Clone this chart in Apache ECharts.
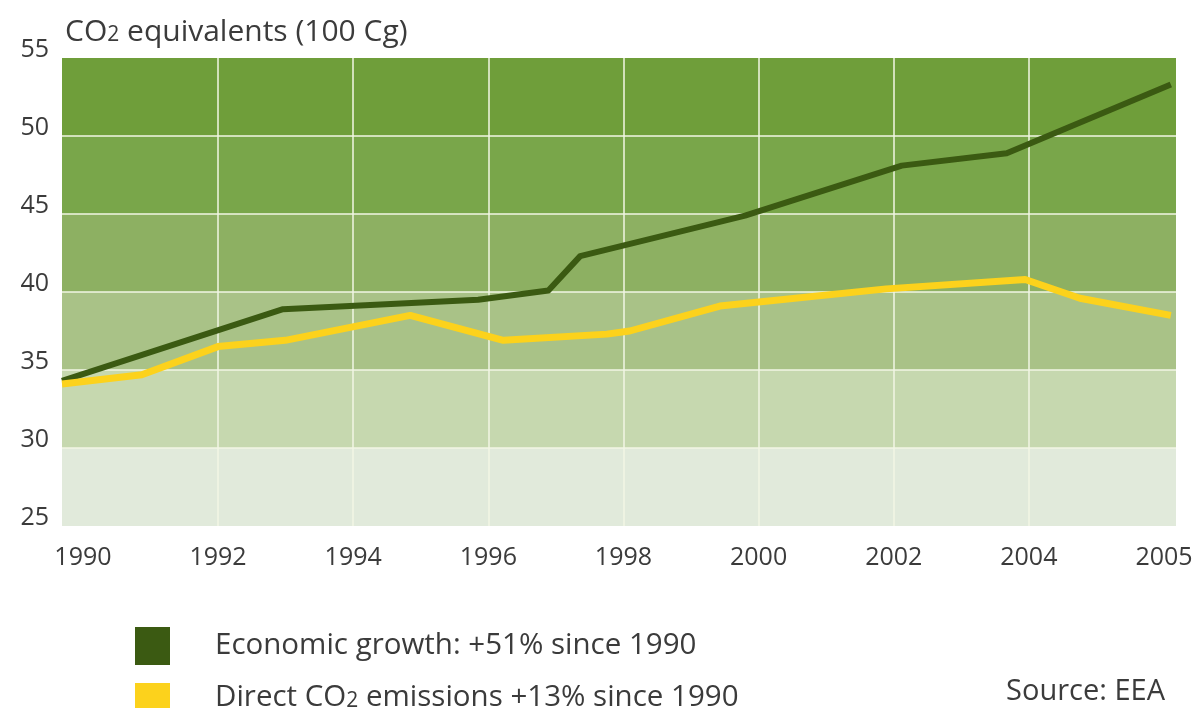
<!DOCTYPE html>
<html>
<head>
<meta charset="utf-8">
<script src="https://cdn.jsdelivr.net/npm/echarts@6/dist/echarts.min.js"></script>
<style>
  html, body { margin: 0; padding: 0; background: #ffffff; }
  #chart { width: 1196px; height: 708px; }
</style>
</head>
<body>
<div id="chart"></div>
<script>
// Tick labels along the bottom, one per label slot
const tickLabels = ['1990', '1992', '1994', '1996', '1998', '2000', '2002', '2004', '2005'];

// Economic growth (index, CO2-equivalent scale)
const growthYears  = [1990, 1992.99, 1995.63, 1996.58, 1997.01, 1999.24, 2001.36, 2002.78, 2005];
const growthValues = [34.3, 38.9, 39.5, 40.1, 42.3, 44.9, 48.1, 48.9, 53.3];

// Direct CO2 emissions
const co2Years  = [1990, 1991.08, 1992.11, 1993.02, 1994.71, 1995.97, 1997.37, 1997.68, 1998.9, 2001.15, 2003.03, 2003.77, 2005];
const co2Values = [34.1, 34.7, 36.5, 36.9, 38.5, 36.9, 37.3, 37.5, 39.1, 40.2, 40.8, 39.6, 38.5];

const seriesNames = ['Economic growth: +51% since 1990', 'Direct CO2 emissions +13% since 1990'];

// Shades of the horizontal bands, from the 25–30 band upward
const bandColors = ['#e1eadb', '#c6d8af', '#a9c287', '#8db062', '#79a64a', '#6f9e3a'];

const FONT = '"Open Sans", "Noto Sans", sans-serif';
const TEXT = '#3b3b3b';
const GRID_LINE = '#f2f6e4';

const toPairs = (xs, ys) => xs.map((x, i) => [x, ys[i]]);

const subscriptStyle = {
  fontFamily: FONT, fontSize: 21, fontWeight: 'normal', color: TEXT, padding: [7, 0, 0, 0]
};

// one legend block per series, stacked vertically
const legendBlock = (name, top, lift) => ({
  left: 130,
  top: top,
  itemWidth: 35,
  itemHeight: 38,
  icon: 'rect',
  selectedMode: false,
  data: [name],
  formatter: n => n.replace('CO2', 'CO{s|2}'),
  textStyle: {
    fontFamily: FONT,
    fontSize: 29.5,
    fontWeight: 'normal',
    color: TEXT,
    padding: [0, 0, lift, 40],
    rich: { s: subscriptStyle }
  }
});

const chart = echarts.init(document.getElementById('chart'), null, { renderer: 'canvas' });

chart.setOption({
  animation: false,
  backgroundColor: '#ffffff',
  textStyle: { fontFamily: FONT },
  title: {
    text: '{a|CO}{s|2}{a| equivalents (100 Cg)}',
    left: 60,
    top: 12,
    textStyle: {
      fontFamily: FONT,
      fontSize: 30,
      fontWeight: 'normal',
      color: TEXT,
      rich: {
        a: { fontFamily: FONT, fontSize: 30, fontWeight: 'normal', color: TEXT },
        s: subscriptStyle
      }
    }
  },
  grid: { left: 62, right: 20, top: 58, bottom: 182 },
  xAxis: [
    {
      // label slots: 1990 … 2004 in two-year steps, then 2005
      type: 'value',
      min: -0.155,
      max: 8.089,
      axisLine: { show: false },
      axisTick: { show: false, customValues: [1, 2, 3, 4, 5, 6, 7] },
      splitLine: { show: true, lineStyle: { color: GRID_LINE, width: 1.5 } },
      axisLabel: {
        customValues: [0, 1, 2, 3, 4, 5, 6, 7, 8],
        formatter: v => tickLabels[Math.round(v)],
        fontFamily: FONT,
        fontSize: 25,
        color: TEXT,
        margin: 19
      }
    },
    {
      // calendar years along the full plot width
      type: 'value',
      show: false,
      min: 1990,
      max: 2005.07
    }
  ],
  yAxis: {
    type: 'value',
    min: 25,
    max: 55,
    interval: 5,
    axisLine: { show: false },
    axisTick: { show: false },
    axisLabel: {
      fontFamily: FONT,
      fontSize: 25,
      color: TEXT,
      margin: 13,
      verticalAlign: 'bottom',
      lineHeight: 16
    },
    splitLine: {
      show: true,
      showMinLine: false,
      showMaxLine: false,
      lineStyle: { color: GRID_LINE, width: 1.5 }
    },
    splitArea: {
      show: true,
      areaStyle: { color: bandColors, opacity: 1 }
    }
  },
  legend: [
    legendBlock(seriesNames[0], 622, 0),
    legendBlock(seriesNames[1], 678, 8)
  ],
  graphic: [
    {
      type: 'text',
      right: 31,
      top: 677,
      style: { text: 'Source: EEA', font: '29px ' + FONT, fill: TEXT }
    }
  ],
  series: [
    {
      name: seriesNames[0],
      type: 'line',
      xAxisIndex: 1,
      data: toPairs(growthYears, growthValues),
      showSymbol: false,
      symbol: 'none',
      color: '#3b5a12',
      lineStyle: { width: 6, color: '#3b5a12', join: 'round', cap: 'butt' },
      z: 3
    },
    {
      name: seriesNames[1],
      type: 'line',
      xAxisIndex: 1,
      data: toPairs(co2Years, co2Values),
      showSymbol: false,
      symbol: 'none',
      color: '#fcd21c',
      lineStyle: { width: 7, color: '#fcd21c', join: 'round', cap: 'butt' },
      z: 4
    }
  ]
});
</script>
</body>
</html>
